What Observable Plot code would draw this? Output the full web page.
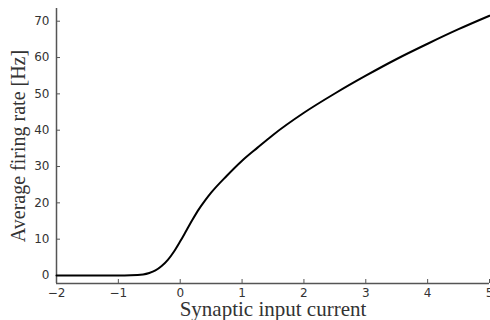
<!DOCTYPE html>
<html>
<head>
<meta charset="utf-8">
<script src="https://cdn.jsdelivr.net/npm/d3@7"></script>
<script src="https://cdn.jsdelivr.net/npm/@observablehq/plot@0.6"></script>
<style>
  html, body { margin: 0; padding: 0; background: #fff; overflow: hidden; }
  #chart svg { display: block; }
</style>
</head>
<body>
<div id="chart"></div>
<script>
const current = [-2, -1.5, -1, -0.8, -0.6, -0.5, -0.4, -0.3, -0.2, -0.1, 0, 0.1, 0.2, 0.3, 0.4, 0.5, 0.75, 1, 1.25, 1.5, 2, 2.5, 3, 3.5, 4, 4.5, 5];
const rate = [0, 0, 0, 0.05, 0.3, 0.7, 1.4, 2.6, 4.3, 6.6, 9.4, 12.4, 15.4, 18.2, 20.6, 22.8, 27.4, 31.6, 35.2, 38.7, 44.8, 50.1, 55.0, 59.6, 63.8, 67.8, 71.5];
const xTicks = [-2, -1, 0, 1, 2, 3, 4, 5];
const yTicks = [0, 10, 20, 30, 40, 50, 60, 70];
const xDomain = [-2, 5];
const yDomain = [-2.2, 73.5];
const xLabel = "Synaptic input current";
const yLabel = "Average firing rate [Hz]";

const data = current.map((x, i) => ({x, y: rate[i]}));

const chart = Plot.plot({
  width: 490,
  height: 320,
  marginLeft: 56,
  marginRight: 1,
  marginTop: 8,
  marginBottom: 37,
  style: {fontFamily: "DejaVu Sans", fontSize: "12px", color: "#333", background: "#fff"},
  x: {domain: xDomain},
  y: {domain: yDomain},
  marks: [
    Plot.ruleX([xDomain[0]], {stroke: "#555", strokeWidth: 1.5}),
    Plot.ruleY([yDomain[0]], {stroke: "#555", strokeWidth: 1.5}),
    Plot.axisX(xTicks, {tickSize: -4, tickPadding: 9, stroke: "#555", label: null, fill: "#333", fontSize: 12}),
    Plot.axisY(yTicks, {tickSize: -4, tickPadding: 11, stroke: "#555", label: null, fill: "#333", fontSize: 12}),
    Plot.line(data, {x: "x", y: "y", stroke: "#000", strokeWidth: 2, curve: "monotone-x"}),
    Plot.text([xLabel], {frameAnchor: "bottom", dy: 26, lineAnchor: "middle", textAnchor: "middle", fontFamily: "Liberation Serif", fontSize: 21, fill: "#333"}),
    Plot.text([yLabel], {frameAnchor: "left", rotate: -90, dx: -38, lineAnchor: "middle", textAnchor: "middle", fontFamily: "Liberation Serif", fontSize: 20, fill: "#333"})
  ]
});
document.getElementById("chart").appendChild(chart);
</script>
</body>
</html>
